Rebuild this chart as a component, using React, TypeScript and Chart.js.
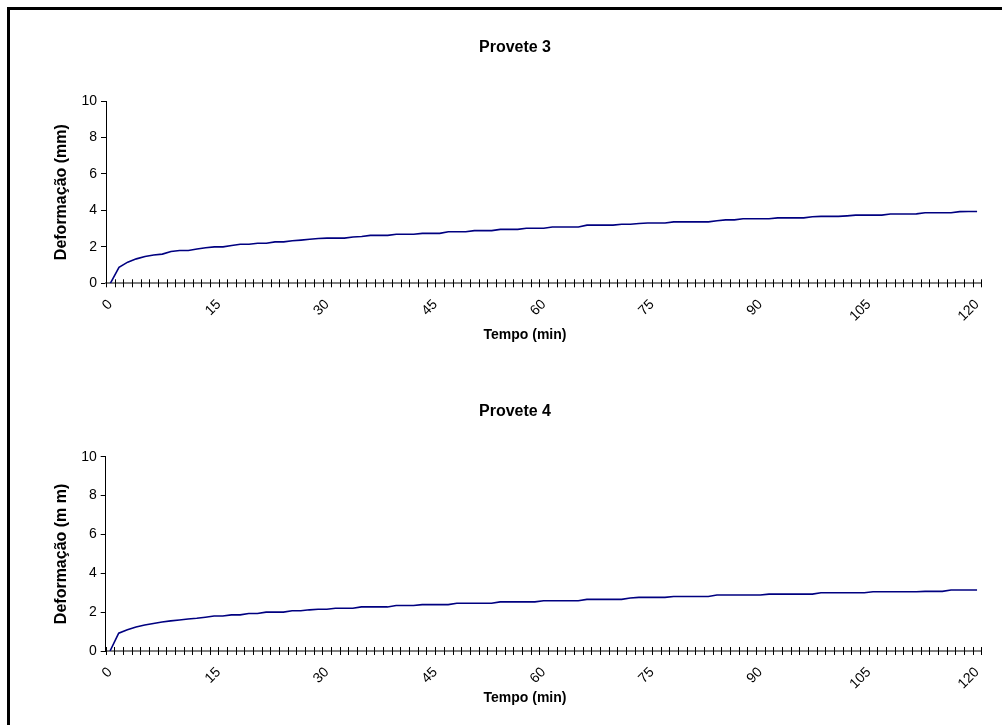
import React, { useEffect, useRef } from "react";
import { Chart, registerables } from "chart.js";

Chart.register(...registerables);

// Time of each reading (min)
const TIME_MIN = [
  0, 1.2, 2.4, 3.6, 4.8, 6, 7.2, 8.4, 9.6, 10.8, 12, 13.2, 14.4, 15.6, 16.8, 18, 19.2, 20.4, 21.6, 22.8,
  24, 25.2, 26.4, 27.6, 28.8, 30, 31.2, 32.4, 33.6, 34.8, 36, 37.2, 38.4, 39.6, 40.8, 42, 43.2, 44.4, 45.6, 46.8,
  48, 49.2, 50.4, 51.6, 52.8, 54, 55.2, 56.4, 57.6, 58.8, 60, 61.2, 62.4, 63.6, 64.8, 66, 67.2, 68.4, 69.6, 70.8,
  72, 73.2, 74.4, 75.6, 76.8, 78, 79.2, 80.4, 81.6, 82.8, 84, 85.2, 86.4, 87.6, 88.8, 90, 91.2, 92.4, 93.6, 94.8,
  96, 97.2, 98.4, 99.6, 100.8, 102, 103.2, 104.4, 105.6, 106.8, 108, 109.2, 110.4, 111.6, 112.8, 114, 115.2, 116.4, 117.6, 118.8,
  120,
];

// Deformação (mm) – Provete 3
const PROVETE_3 = [
  0, 0.88, 1.16, 1.34, 1.47, 1.55, 1.6, 1.74, 1.8, 1.8,
  1.88, 1.95, 2.0, 2.0, 2.07, 2.14, 2.14, 2.2, 2.2, 2.27,
  2.27, 2.33, 2.37, 2.42, 2.46, 2.48, 2.48, 2.48, 2.54, 2.57,
  2.63, 2.63, 2.63, 2.69, 2.69, 2.69, 2.74, 2.74, 2.74, 2.83,
  2.83, 2.83, 2.89, 2.89, 2.89, 2.96, 2.96, 2.96, 3.02, 3.02,
  3.02, 3.09, 3.09, 3.09, 3.09, 3.19, 3.19, 3.19, 3.19, 3.24,
  3.24, 3.28, 3.31, 3.31, 3.31, 3.37, 3.37, 3.37, 3.37, 3.37,
  3.43, 3.48, 3.48, 3.54, 3.54, 3.54, 3.54, 3.59, 3.59, 3.59,
  3.59, 3.65, 3.67, 3.67, 3.67, 3.7, 3.74, 3.74, 3.74, 3.74,
  3.8, 3.8, 3.8, 3.81, 3.87, 3.87, 3.87, 3.87, 3.93, 3.94,
  3.94,
];

// Deformação (mm) – Provete 4
const PROVETE_4 = [
  0, 0.92, 1.1, 1.24, 1.34, 1.42, 1.49, 1.55, 1.6, 1.65,
  1.69, 1.74, 1.8, 1.8, 1.86, 1.86, 1.93, 1.93, 2.0, 2.0,
  2.0, 2.07, 2.07, 2.12, 2.15, 2.15, 2.2, 2.2, 2.2, 2.27,
  2.27, 2.27, 2.27, 2.34, 2.34, 2.34, 2.39, 2.39, 2.39, 2.39,
  2.46, 2.46, 2.46, 2.46, 2.46, 2.53, 2.53, 2.53, 2.53, 2.53,
  2.59, 2.59, 2.59, 2.59, 2.59, 2.66, 2.66, 2.66, 2.66, 2.66,
  2.73, 2.76, 2.76, 2.76, 2.76, 2.81, 2.81, 2.81, 2.81, 2.81,
  2.88, 2.88, 2.88, 2.88, 2.88, 2.88, 2.93, 2.93, 2.93, 2.93,
  2.93, 2.93, 3.0, 3.0, 3.0, 3.0, 3.0, 3.0, 3.05, 3.05,
  3.05, 3.05, 3.05, 3.05, 3.07, 3.07, 3.07, 3.14, 3.14, 3.14,
  3.14,
];

const X_LABEL_TICKS = [0, 15, 30, 45, 60, 75, 90, 105, 120];
const Y_TICKS = [0, 2, 4, 6, 8, 10];
const SAMPLE_STEP = 1.2;

const FONT = '"Liberation Sans", Arial, sans-serif';

type Layout = {
  top: number;
  height: number;
  padL: number;
  padR: number;
  yAxisW: number;
  yTitlePad: number;
  titlePadTop: number;
  titlePadBottom: number;
  xAxisH: number;
  xTitleX: number;
  xTitleY: number; // page coordinate
};

const LAYOUT_1: Layout = {
  top: 0, height: 370, padL: 39.3, padR: 11.3, yAxisW: 66.7, yTitlePad: 13,
  titlePadTop: 38.4, titlePadBottom: 43.4, xAxisH: 86.7, xTitleX: 525, xTitleY: 335,
};
const LAYOUT_2: Layout = {
  top: 365, height: 360, padL: 42.3, padR: 14.3, yAxisW: 63.4, yTitlePad: 10,
  titlePadTop: 37.4, titlePadBottom: 35.2, xAxisH: 74, xTitleX: 525, xTitleY: 698,
};

function buildChart(canvas: HTMLCanvasElement, title: string, yTitle: string, values: number[], L: Layout) {
  const half = SAMPLE_STEP / 2;
  const xMin = TIME_MIN[0] - half;
  const xMax = TIME_MIN[TIME_MIN.length - 1] + half;
  const boundaries = [...TIME_MIN.map((t) => t - half), TIME_MIN[TIME_MIN.length - 1] + half];

  const crossTicks = {
    id: "crossTicks",
    afterDraw(chart: any) {
      const sx = chart.scales.x;
      const ctx = chart.ctx;
      const y0 = chart.chartArea.bottom;
      ctx.save();
      ctx.strokeStyle = "#000";
      ctx.lineWidth = 1;
      ctx.beginPath();
      boundaries.forEach((b) => {
        const px = Math.round(sx.getPixelForValue(b)) + 0.5;
        ctx.moveTo(px, y0 - 4);
        ctx.lineTo(px, y0 + 4);
      });
      ctx.stroke();
      ctx.font = `bold 14px ${FONT}`;
      ctx.fillStyle = "#000";
      ctx.textAlign = "center";
      ctx.textBaseline = "middle";
      ctx.fillText("Tempo (min)", L.xTitleX, L.xTitleY - L.top);
      ctx.restore();
    },
  };

  return new Chart(canvas, {
    type: "line",
    data: {
      datasets: [
        {
          label: title,
          data: TIME_MIN.map((t, i) => ({ x: t, y: values[i] })),
          borderColor: "#000080",
          borderWidth: 1.6,
          pointRadius: 0,
          tension: 0,
          fill: false,
        },
      ],
    },
    options: {
      responsive: false,
      animation: false,
      devicePixelRatio: 1,
      layout: { padding: { left: L.padL, right: L.padR, top: 0, bottom: 0 } },
      plugins: {
        legend: { display: false },
        tooltip: { enabled: false },
        title: {
          display: true,
          text: title,
          color: "#000",
          font: { family: FONT, size: 16, weight: "bold" },
          padding: { top: L.titlePadTop, bottom: L.titlePadBottom },
        },
      },
      scales: {
        x: {
          type: "linear",
          min: xMin,
          max: xMax,
          afterBuildTicks: (s: any) => {
            s.ticks = X_LABEL_TICKS.map((v) => ({ value: v }));
          },
          afterFit: (s: any) => {
            s.height = L.xAxisH;
          },
          ticks: {
            autoSkip: false,
            minRotation: 45,
            maxRotation: 45,
            padding: 13,
            color: "#000",
            font: { family: FONT, size: 14 },
            callback: (v: any) => String(v),
          },
          grid: { display: false, drawTicks: false, drawOnChartArea: false },
          border: { display: true, color: "#808080", width: 2 },
          title: { display: false },
        },
        y: {
          type: "linear",
          min: Y_TICKS[0],
          max: Y_TICKS[Y_TICKS.length - 1],
          afterBuildTicks: (s: any) => {
            s.ticks = Y_TICKS.map((v) => ({ value: v }));
          },
          afterFit: (s: any) => {
            s.width = L.yAxisW;
          },
          ticks: {
            padding: 4,
            color: "#000",
            font: { family: FONT, size: 14 },
          },
          grid: { display: true, drawOnChartArea: false, drawTicks: true, tickLength: 5, color: "#000" },
          border: { display: true, color: "#000", width: 1 },
          title: {
            display: true,
            text: yTitle,
            color: "#000",
            font: { family: FONT, size: 16, weight: "bold" },
            padding: { top: L.yTitlePad, bottom: 0 },
          },
        },
      },
    },
    plugins: [crossTicks],
  });
}

function Panel({ title, yTitle, values, layout }: { title: string; yTitle: string; values: number[]; layout: Layout }) {
  const ref = useRef<HTMLCanvasElement | null>(null);
  useEffect(() => {
    if (!ref.current) return;
    const chart = buildChart(ref.current, title, yTitle, values, layout);
    return () => chart.destroy();
  }, [title, yTitle, values, layout]);
  return (
    <canvas
      ref={ref}
      width={1002}
      height={layout.height}
      style={{ position: "absolute", left: 0, top: layout.top, width: 1002, height: layout.height }}
    />
  );
}

export default function App() {
  return (
    <div
      style={{
        position: "absolute",
        left: 0,
        top: 0,
        width: 1002,
        height: 725,
        overflow: "hidden",
        background: "#fff",
      }}
    >
      <div
        style={{
          position: "absolute",
          left: 7,
          top: 7,
          width: 1200,
          height: 900,
          borderLeft: "3px solid #000",
          borderTop: "3px solid #000",
        }}
      />
      <Panel title="Provete 3" yTitle="Deformação (mm)" values={PROVETE_3} layout={LAYOUT_1} />
      <Panel title="Provete 4" yTitle="Deformação (m m)" values={PROVETE_4} layout={LAYOUT_2} />
    </div>
  );
}
